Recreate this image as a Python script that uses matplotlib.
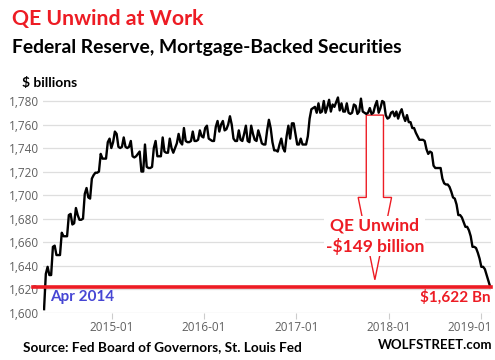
import matplotlib
matplotlib.use('Agg')
import matplotlib.pyplot as plt
import matplotlib.dates as mdates
import matplotlib.transforms as mtransforms
from matplotlib.patches import Polygon
from matplotlib.ticker import StrMethodFormatter
import pandas as pd

# weekly Fed MBS holdings, $ billions, starting 2014-04-09
start_date = '2014-04-09'
mbs = [
    1603, 1633, 1639, 1632, 1632, 1656, 1657, 1649, 1649, 1649,
    1668, 1665, 1665, 1665, 1683, 1684, 1675, 1676, 1689, 1683,
    1679, 1679, 1680, 1701, 1706, 1698, 1697, 1714, 1717, 1719,
    1719, 1720, 1735, 1731, 1731, 1731, 1745, 1748, 1740, 1745,
    1754, 1752, 1741, 1740, 1741, 1749, 1741, 1740, 1741, 1746,
    1733, 1732, 1733, 1735, 1737, 1720, 1720, 1743, 1724, 1723,
    1723, 1724, 1740, 1746, 1733, 1733, 1733, 1749, 1737, 1736,
    1736, 1748, 1740, 1736, 1740, 1744, 1752, 1745, 1743, 1757,
    1746, 1745, 1745, 1746, 1754, 1746, 1746, 1747, 1755, 1750,
    1749, 1757, 1759, 1748, 1747, 1746, 1746, 1758, 1763, 1754,
    1760, 1763, 1755, 1756, 1760, 1767, 1760, 1748, 1746, 1746,
    1755, 1747, 1746, 1752, 1759, 1746, 1745, 1759, 1752, 1747,
    1746, 1755, 1750, 1744, 1743, 1743, 1755, 1764, 1757, 1745,
    1738, 1738, 1737, 1743, 1748, 1740, 1737, 1750, 1759, 1748,
    1761, 1761, 1752, 1743, 1743, 1748, 1743, 1743, 1743, 1750,
    1765, 1773, 1774, 1775, 1770, 1778, 1770, 1771, 1780, 1770,
    1775, 1781, 1771, 1777, 1775, 1779, 1783, 1772, 1778, 1771,
    1771, 1778, 1770, 1769, 1770, 1777, 1776, 1769, 1771, 1782,
    1771, 1770, 1769, 1770, 1774, 1769, 1770, 1776, 1780, 1770,
    1774, 1780, 1779, 1768, 1765, 1766, 1770, 1771, 1767, 1771,
    1765, 1770, 1773, 1767, 1763, 1768, 1762, 1762, 1757, 1757,
    1753, 1750, 1747, 1747, 1747, 1746, 1739, 1735, 1737, 1736,
    1725, 1723, 1723, 1723, 1723, 1714, 1710, 1709, 1709, 1707,
    1703, 1698, 1697, 1692, 1683, 1683, 1681, 1677, 1673, 1673,
    1670, 1665, 1656, 1656, 1655, 1651, 1646, 1639, 1639, 1637,
    1632, 1627, 1622,
]
y_ticks = [1600, 1620, 1640, 1660, 1680, 1700, 1720, 1740, 1760, 1780]
start_level = 1622

red = '#ed1c24'
dates = pd.date_range(start_date, periods=len(mbs), freq='7D')

fig = plt.figure(figsize=(4.95, 3.6), dpi=100)
ax = fig.add_axes([43.3 / 495, 1 - 312.7 / 360, 447.4 / 495, 217.6 / 360])

ax.plot(dates, mbs, color='black', lw=1.7, zorder=3)
ax.axhline(start_level, xmin=-0.023, xmax=1, color=red, lw=2.6, zorder=4, clip_on=False)

ax.set_xlim(pd.Timestamp('2014-04-06'), pd.Timestamp('2019-02-08'))
ax.set_ylim(1600, 1785)
ax.set_yticks(y_ticks)
ax.yaxis.set_major_formatter(StrMethodFormatter('{x:,.0f}'))
ax.xaxis.set_major_locator(mdates.YearLocator(month=1, day=1))
ax.xaxis.set_major_formatter(mdates.DateFormatter('%Y-%m'))
ax.grid(axis='y', color='#dedede', lw=0.9, zorder=0)
for s in ax.spines.values():
    s.set_visible(False)
ax.tick_params(axis='y', length=0, labelcolor='#606060', labelsize=8.5, pad=3)
ax.tick_params(axis='x', length=4, color='#cccccc', labelcolor='#606060', labelsize=8.5, pad=2)
for lab in ax.get_xticklabels() + ax.get_yticklabels():
    lab.set_family('Open Sans')

# last x label is pushed left so it stays inside the picture
fig.canvas.draw()
last = ax.get_xticklabels()[-1]
last.set_transform(last.get_transform() + mtransforms.ScaledTranslation(-0.11, 0, fig.dpi_scale_trans))

# block arrow, QE unwind
xc = mdates.date2num(pd.Timestamp('2017-11-07'))
arrow = Polygon([(xc - 34, 1768), (xc + 34, 1768), (xc + 34, 1698), (xc + 66, 1698),
                 (xc, 1628), (xc - 66, 1698), (xc - 34, 1698)],
                closed=True, facecolor='white', edgecolor=red, lw=1.0, zorder=2)
ax.add_patch(arrow)
ax.text(xc, 1665, 'QE Unwind\n-$149 billion', color=red, fontsize=12.5, fontweight='bold',
        family='Lato', ha='center', va='center', linespacing=1.3, zorder=5,
        bbox=dict(facecolor='white', edgecolor='none', pad=1))

ax.text(0.015, 1613, 'Apr 2014', transform=ax.get_yaxis_transform(), color='#4646d4',
        fontsize=11, fontweight='bold', family='Lato', va='center', ha='left')
ax.text(1.0, 1613, '$1,622 Bn', transform=ax.get_yaxis_transform(), color=red,
        fontsize=11, fontweight='bold', family='Lato', va='center', ha='right')

fig.text(12 / 495, 1 - 19 / 360, 'QE Unwind at Work', color=red, fontsize=15.3,
         fontweight='bold', family='Lato', va='center')
fig.text(12 / 495, 1 - 47 / 360, 'Federal Reserve, Mortgage-Backed Securities', color='black',
         fontsize=13.9, fontweight='bold', family='Lato', va='center')
fig.text(22 / 495, 1 - 83 / 360, '$ billions', color='black', fontsize=10,
         fontweight='bold', family='Lato', va='center')
fig.text(23 / 495, 1 - 347 / 360, 'Source: Fed Board of Governors, St. Louis Fed', color='black',
         fontsize=9.8, fontweight='bold', family='Lato', va='center')
fig.text(492 / 495, 1 - 345 / 360, 'WOLFSTREET.com', color='black', fontsize=9.5,
         fontweight='bold', family='Lato', va='center', ha='right')

fig.savefig('out.png', dpi=100)
